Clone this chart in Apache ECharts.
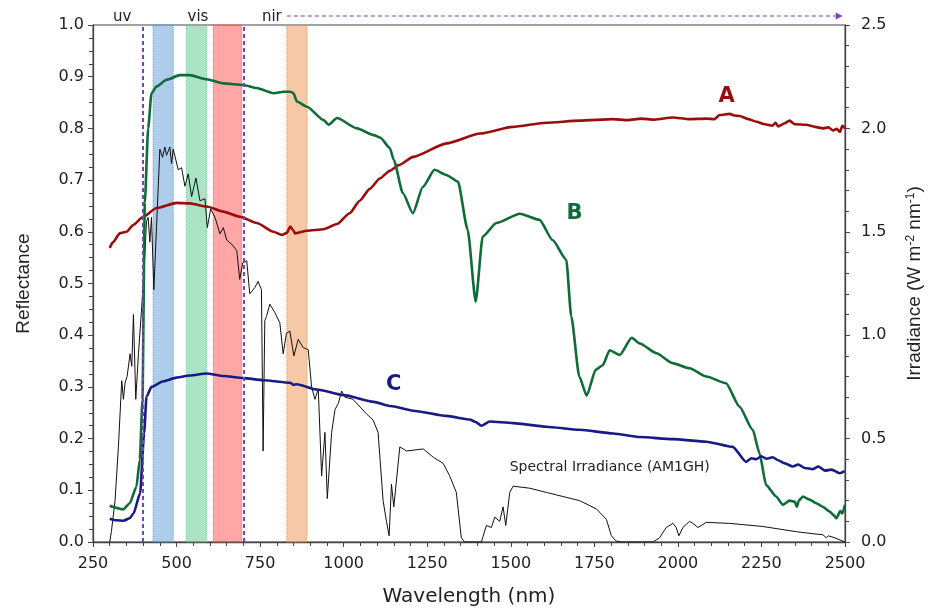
<!DOCTYPE html>
<html>
<head>
<meta charset="utf-8">
<script src="https://cdn.jsdelivr.net/npm/echarts@6.0.0/dist/echarts.min.js"></script>
<style>
html, body { margin: 0; padding: 0; background: #fff; }
#main { width: 933px; height: 610px; }
</style>
</head>
<body>
<div id="main"></div>
<script>
// reflectance curves, [wavelength nm, reflectance]
var curveA = [
  [300,0.569],[310,0.58],[330,0.597],[350,0.600],[370,0.613],[400,0.629],[440,0.646],[500,0.656],
  [540,0.655],[590,0.649],[640,0.639],[690,0.629],[740,0.617],[790,0.600],[815,0.594],[830,0.598],
  [840,0.610],[848,0.604],[855,0.597],[890,0.602],[940,0.605],[980,0.615],[1018,0.636],[1048,0.660],
  [1078,0.683],[1108,0.703],[1138,0.718],[1165,0.729],[1208,0.745],[1308,0.771],[1408,0.790],
  [1506,0.803],[1606,0.811],[1706,0.815],[1806,0.818],[1850,0.816],[1890,0.819],[1930,0.817],
  [1985,0.821],[2030,0.818],[2085,0.819],[2110,0.818],[2125,0.826],[2155,0.828],[2170,0.825],
  [2185,0.824],[2210,0.818],[2235,0.813],[2260,0.808],[2283,0.805],[2292,0.811],[2300,0.804],
  [2320,0.810],[2334,0.815],[2350,0.808],[2384,0.807],[2410,0.803],[2434,0.800],[2450,0.802],
  [2465,0.796],[2475,0.799],[2485,0.793],[2492,0.805],[2500,0.800]
];
var curveB = [
  [300,0.070],[320,0.066],[340,0.063],[360,0.075],[380,0.107],[390,0.159],[398,0.275],[405,0.656],
  [415,0.800],[425,0.868],[440,0.881],[470,0.894],[510,0.903],[540,0.903],[590,0.895],[640,0.887],
  [700,0.884],[740,0.878],[790,0.868],[820,0.871],[840,0.871],[850,0.868],[860,0.852],[890,0.842],
  [940,0.816],[955,0.807],[980,0.820],[1040,0.800],[1090,0.787],[1110,0.782],[1138,0.762],
  [1150,0.739],[1177,0.675],[1207,0.636],[1237,0.687],[1272,0.720],[1307,0.710],[1342,0.697],
  [1371,0.604],[1395,0.465],[1416,0.591],[1457,0.617],[1527,0.635],[1586,0.623],[1625,0.584],
  [1666,0.546],[1681,0.436],[1705,0.320],[1727,0.283],[1754,0.333],[1775,0.342],[1796,0.371],
  [1826,0.362],[1862,0.395],[1886,0.384],[1936,0.365],[1984,0.346],[2035,0.336],[2085,0.320],
  [2144,0.307],[2184,0.262],[2224,0.217],[2244,0.172],[2264,0.110],[2294,0.088],[2314,0.072],
  [2334,0.080],[2350,0.078],[2356,0.068],[2362,0.080],[2374,0.088],[2394,0.082],[2414,0.075],
  [2434,0.068],[2454,0.059],[2466,0.052],[2474,0.046],[2486,0.060],[2492,0.055],[2500,0.072]
];
var curveC = [
  [300,0.045],[320,0.042],[341,0.041],[360,0.046],[371,0.055],[391,0.094],[403,0.211],[410,0.281],
  [425,0.300],[460,0.311],[500,0.318],[540,0.322],[590,0.326],[640,0.321],[700,0.317],[760,0.313],
  [840,0.308],[850,0.304],[860,0.305],[920,0.295],[1000,0.284],[1090,0.271],[1140,0.263],
  [1208,0.254],[1307,0.244],[1377,0.237],[1395,0.232],[1412,0.225],[1437,0.233],[1507,0.230],
  [1606,0.223],[1706,0.217],[1806,0.210],[1886,0.203],[1984,0.199],[2085,0.194],[2164,0.184],
  [2204,0.155],[2220,0.162],[2234,0.160],[2250,0.166],[2265,0.161],[2284,0.164],[2300,0.158],
  [2320,0.152],[2344,0.146],[2360,0.150],[2380,0.143],[2404,0.141],[2420,0.146],[2440,0.138],
  [2460,0.140],[2484,0.133],[2499,0.137]
];
// solar spectral irradiance (right axis), [wavelength nm, W m-2 nm-1]
var irradiance = [
  [300,0.00],[305,0.05],[316,0.20],[326,0.46],[336,0.78],[341,0.69],[346,0.77],[352,0.80],[361,0.91],
  [366,0.85],[371,1.10],[378,0.69],[386,0.91],[396,1.14],[405,1.38],[410,1.55],[415,1.57],[420,1.45],
  [425,1.57],[432,1.22],[440,1.52],[450,1.90],[458,1.86],[465,1.91],[470,1.87],[480,1.91],[485,1.83],
  [490,1.90],[505,1.80],[515,1.81],[525,1.72],[535,1.78],[545,1.67],[558,1.76],[570,1.65],[585,1.66],
  [592,1.52],[602,1.61],[615,1.57],[630,1.49],[640,1.52],[650,1.46],[665,1.44],[680,1.41],[689,1.27],
  [698,1.35],[710,1.36],[719,1.20],[734,1.23],[744,1.26],[754,1.22],[759,0.44],[764,1.07],[769,1.09],
  [779,1.15],[794,1.11],[809,1.06],[819,0.91],[829,1.01],[839,1.02],[851,0.90],[864,0.98],[879,0.94],
  [894,0.93],[904,0.75],[914,0.69],[924,0.74],[934,0.32],[944,0.53],[951,0.21],[964,0.53],[974,0.64],
  [984,0.67],[994,0.73],[1004,0.70],[1028,0.69],[1068,0.62],[1088,0.59],[1103,0.53],[1118,0.20],
  [1128,0.10],[1136,0.03],[1143,0.28],[1150,0.17],[1168,0.46],[1188,0.44],[1238,0.45],[1268,0.41],
  [1298,0.38],[1317,0.32],[1337,0.24],[1352,0.02],[1362,0.00],[1412,0.00],[1427,0.08],[1442,0.07],
  [1452,0.12],[1467,0.10],[1477,0.17],[1485,0.08],[1497,0.24],[1507,0.27],[1557,0.26],[1606,0.24],
  [1656,0.22],[1706,0.20],[1756,0.16],[1786,0.11],[1801,0.03],[1815,0.005],[1830,0.00],[1925,0.00],
  [1945,0.02],[1965,0.07],[1985,0.09],[1995,0.07],[2003,0.03],[2015,0.07],[2035,0.10],[2045,0.09],
  [2060,0.07],[2085,0.095],[2155,0.09],[2254,0.075],[2354,0.05],[2404,0.04],[2434,0.035],
  [2444,0.02],[2450,0.03],[2470,0.02],[2500,0.00]
];
// colour bands (nm) and region boundaries
var bandRanges = [[430, 490], [530, 590], [610, 695], [830, 890]];
var regionBounds = [400, 700];
var regionNames = ['uv', 'vis', 'nir'];
var regionNameAt = [337, 564, 785];
var nirArrow = [830, 2472];
// series tags: [text, wavelength, value]
var curveTags = [['A', 2146, 0.861], ['B', 1691, 0.636], ['C', 1150, 0.304]];
var irrTag = ['Spectral Irradiance (AM1GH)', 1796, 0.363];

var bandFill = ['rgba(91,155,213,0.5)', 'rgba(87,201,138,0.5)', 'rgba(255,80,80,0.5)', 'rgba(237,145,76,0.5)'];
var bandEdge = ['#5b9bd5', '#57c98a', '#ff5050', '#ed914c'];
var tagColor = ['#9b0d0d', '#0f6b38', '#1a1a85'];
var purple = '#7b3fbf';
var tickFont = { fontFamily: 'DejaVu Sans', fontSize: 16, color: '#222' };

var myChart = echarts.init(document.getElementById('main'));

var option = {
  animation: false,
  grid: {
    left: 93, right: 88, top: 25, bottom: 68, outerBoundsMode: 'none',
    show: true, borderColor: '#444', borderWidth: 1
  },
  xAxis: {
    type: 'value', min: 250, max: 2500, interval: 250,
    name: 'Wavelength (nm)', nameLocation: 'middle', nameGap: 45,
    nameTextStyle: { fontFamily: 'DejaVu Sans', fontSize: 20, color: '#222' },
    axisLine: { lineStyle: { color: '#444', width: 1.3 } },
    axisTick: { length: 5, lineStyle: { color: '#444' } },
    minorTick: { show: true, splitNumber: 5, length: 4, lineStyle: { color: '#444' } },
    splitLine: { show: false },
    axisLabel: Object.assign({ margin: 14, formatter: function (v) { return String(v); } }, tickFont)
  },
  yAxis: [{
    type: 'value', min: 0, max: 1, interval: 0.1,
    name: 'Reflectance', nameLocation: 'middle', nameGap: 60,
    nameTextStyle: { fontFamily: 'Liberation Sans', fontSize: 19, color: '#222' },
    axisLine: { show: true, lineStyle: { color: '#444', width: 1.3 } },
    axisTick: { length: 5, lineStyle: { color: '#444' } },
    minorTick: { show: true, splitNumber: 4, length: 4, lineStyle: { color: '#444' } },
    splitLine: { show: false },
    axisLabel: Object.assign({ margin: 9, formatter: function (v) { return v.toFixed(1); } }, tickFont)
  }, {
    type: 'value', min: 0, max: 2.5, interval: 0.5, position: 'right',
    name: 'Irradiance (W m{sup|-2} nm{sup|-1})', nameLocation: 'middle', nameGap: 60,
    nameTextStyle: {
      fontFamily: 'Liberation Sans', fontSize: 19, color: '#222',
      rich: { sup: { fontFamily: 'Liberation Sans', fontSize: 12, color: '#222', verticalAlign: 'top', padding: [0, 0, 8, 0] } }
    },
    axisLine: { show: true, lineStyle: { color: '#444', width: 1.3 } },
    axisTick: { length: 5, lineStyle: { color: '#444' } },
    minorTick: { show: true, splitNumber: 5, length: 4, lineStyle: { color: '#444' } },
    splitLine: { show: false },
    axisLabel: Object.assign({ margin: 16, formatter: function (v) { return v.toFixed(1); } }, tickFont)
  }],
  series: [
    {
      name: 'irradiance', type: 'line', yAxisIndex: 1, data: irradiance, showSymbol: false, silent: true, z: 2,
      lineStyle: { color: '#111', width: 1 }
    },
    {
      name: 'A', type: 'line', data: curveA, showSymbol: false, silent: true, z: 3,
      smooth: 0.2, smoothMonotone: 'x', lineStyle: { color: tagColor[0], width: 2.6 }
    },
    {
      name: 'B', type: 'line', data: curveB, showSymbol: false, silent: true, z: 3,
      smooth: 0.2, smoothMonotone: 'x', lineStyle: { color: tagColor[1], width: 2.6 }
    },
    {
      name: 'C', type: 'line', data: curveC, showSymbol: false, silent: true, z: 3,
      smooth: 0.2, smoothMonotone: 'x', lineStyle: { color: tagColor[2], width: 2.6 }
    },
    {
      name: 'bands', type: 'line', data: [], silent: true, z: 5,
      markArea: {
        silent: true,
        data: bandRanges.map(function (r, i) {
          return [{ xAxis: r[0], itemStyle: { color: bandFill[i], borderColor: bandEdge[i], borderWidth: 1, borderType: 'dotted' } },
                  { xAxis: r[1] }];
        })
      },
      markLine: {
        silent: true, symbol: 'none', label: { show: false },
        lineStyle: { color: purple, type: [4, 3], width: 2 },
        data: regionBounds.map(function (x) { return { xAxis: x }; })
      }
    }
  ]
};
myChart.setOption(option);

// annotations placed through the chart's own scales
function px(x, y, axis) {
  return myChart.convertToPixel({ xAxisIndex: 0, yAxisIndex: axis || 0 }, [x, y]);
}
var plotTop = px(250, 1)[1];
var g = [];
regionNames.forEach(function (t, i) {
  g.push({ type: 'text', x: px(regionNameAt[i], 1)[0], y: plotTop - 8,
    style: { text: t, fill: '#222', fontFamily: 'DejaVu Sans', fontSize: 15, align: 'center', verticalAlign: 'middle' } });
});
var ax1 = px(nirArrow[0], 1)[0], ax2 = px(nirArrow[1], 1)[0], ay = plotTop - 9;
g.push({ type: 'line', shape: { x1: ax1, y1: ay, x2: ax2, y2: ay }, style: { stroke: purple, lineWidth: 1.2, lineDash: [4, 3] } });
g.push({ type: 'polygon', shape: { points: [[ax2, ay - 3.5], [ax2 + 7, ay], [ax2, ay + 3.5]] }, style: { fill: purple } });
curveTags.forEach(function (t, i) {
  var p = px(t[1], t[2]);
  g.push({ type: 'text', x: p[0], y: p[1], z: 10,
    style: { text: t[0], fill: tagColor[i], fontFamily: 'DejaVu Sans', fontWeight: 'bold', fontSize: 21, align: 'center', verticalAlign: 'middle' } });
});
var ip = px(irrTag[1], irrTag[2], 1);
g.push({ type: 'text', x: ip[0], y: ip[1], z: 10,
  style: { text: irrTag[0], fill: '#222', fontFamily: 'DejaVu Sans', fontSize: 14, align: 'center', verticalAlign: 'middle' } });
myChart.setOption({ graphic: g });
</script>
</body>
</html>
